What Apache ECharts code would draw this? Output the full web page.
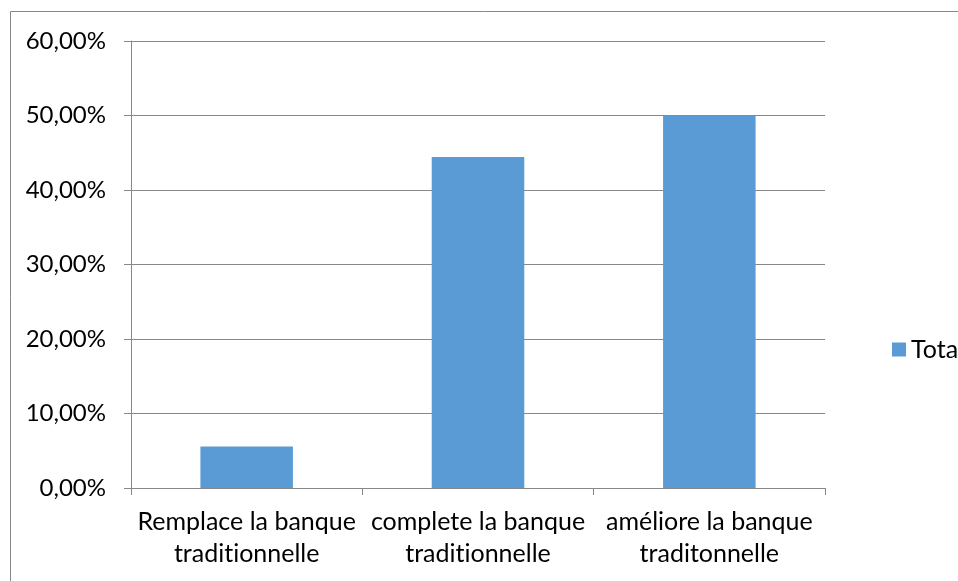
<!DOCTYPE html>
<html>
<head>
<meta charset="utf-8">
<script src="https://cdn.jsdelivr.net/npm/echarts@6/dist/echarts.min.js"></script>
<style>
  html, body { margin: 0; padding: 0; background: #ffffff; }
  #chart { width: 958px; height: 581px; }
</style>
</head>
<body>
<div id="chart"></div>
<script>
// Survey answers: how online banking relates to traditional banking
const categories = [
  'Remplace la banque\ntraditionnelle',
  'complete la banque\ntraditionnelle',
  'améliore la banque\ntraditonnelle'
];
const totalValues = [5.56, 44.44, 50.00];   // share of respondents, %
const seriesName = 'Total';
const yMin = 0, yMax = 60, yStep = 10;

const FONT = 'Lato, "Open Sans", sans-serif';
const GRID_GRAY = '#888888';

// keep "t" and "i" as separate glyphs (Lato would otherwise join them)
const noTiLigature = s => s.replace(/ti/g, 't\u200Ci');

const chart = echarts.init(document.getElementById('chart'), null, { renderer: 'canvas' });

chart.setOption({
  animation: false,
  backgroundColor: '#ffffff',
  textStyle: { fontFamily: FONT },
  graphic: [{
    type: 'rect',
    silent: true,
    shape: { x: 10.5, y: 11.5, width: 1200, height: 1200 },
    style: { fill: 'none', stroke: GRID_GRAY, lineWidth: 1 }
  }],
  grid: { left: 131, right: 133, top: 41, bottom: 93, containLabel: false },
  legend: {
    data: [seriesName],
    left: 887,
    top: 332,
    itemWidth: 14,
    itemHeight: 14,
    itemGap: 0,
    icon: 'rect',
    textStyle: { fontFamily: FONT, fontSize: 25, color: '#000000', padding: [0, 0, 0, 0] }
  },
  xAxis: {
    type: 'category',
    data: categories,
    axisLine: { show: true, lineStyle: { color: GRID_GRAY, width: 1 } },
    axisTick: { show: true, length: 7, alignWithLabel: false, lineStyle: { color: GRID_GRAY } },
    axisLabel: {
      interval: 0,
      margin: 18,
      fontFamily: FONT,
      fontSize: 25,
      lineHeight: 32,
      color: '#000000',
      formatter: noTiLigature
    },
    splitLine: { show: false }
  },
  yAxis: {
    type: 'value',
    min: yMin,
    max: yMax,
    interval: yStep,
    axisLine: { show: true, lineStyle: { color: GRID_GRAY, width: 1 } },
    axisTick: { show: true, length: 7, lineStyle: { color: GRID_GRAY } },
    axisLabel: {
      margin: 25,
      fontFamily: FONT,
      fontSize: 24,
      color: '#000000',
      formatter: v => v.toFixed(2).replace('.', ',') + '%'
    },
    splitLine: { show: true, lineStyle: { color: GRID_GRAY, width: 1 } }
  },
  series: [{
    name: seriesName,
    type: 'bar',
    data: totalValues,
    barWidth: '40%',
    itemStyle: { color: '#5B9BD5' }
  }]
});
</script>
</body>
</html>
